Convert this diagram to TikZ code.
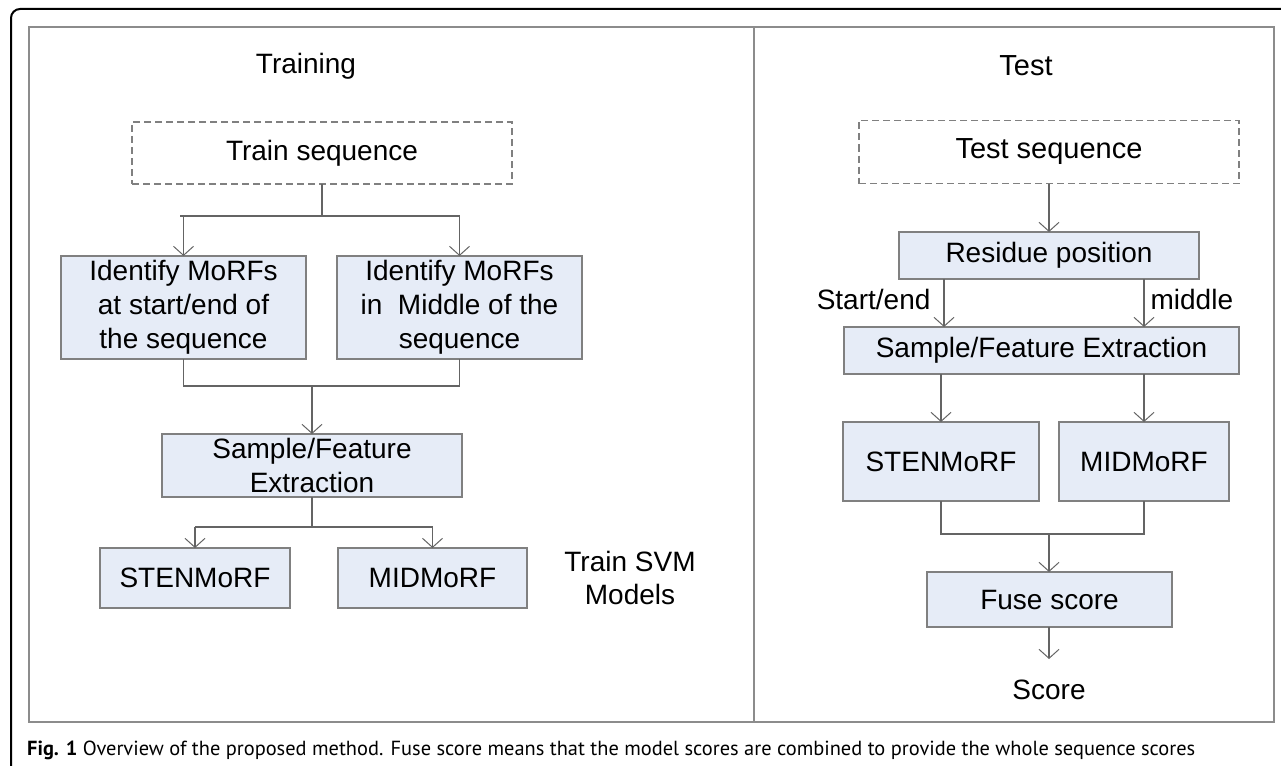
\documentclass[tikz,border=0pt]{standalone}
\usepackage{fontspec}
\setmainfont{Liberation Sans}
\newfontfamily\capfont{PT Sans}
\usetikzlibrary{arrows.meta}
\definecolor{boxfill}{RGB}{230,236,247}
\definecolor{boxline}{RGB}{128,128,128}
\definecolor{conline}{RGB}{100,100,100}
\definecolor{framegray}{RGB}{140,140,140}
\tikzset{
  procbox/.style={draw=boxline, fill=boxfill, line width=1.3pt, inner sep=0pt, outer sep=0pt, align=center, font=\fontsize{28}{34}\selectfont},
  seqbox/.style={draw=boxline, dashed, dash pattern=on 7pt off 4pt, line width=1.3pt, inner sep=0pt, outer sep=0pt, font=\fontsize{28}{34}\selectfont},
  conn/.style={draw=conline, line width=1.2pt},
  arr/.style={conn, -{Straight Barb[length=9pt,width=20pt,line width=1pt]}},
  lbl/.style={inner sep=0pt, align=center, font=\fontsize{28}{33}\selectfont},
}
\begin{document}
\begin{tikzpicture}[x=1pt,y=-1pt]
\useasboundingbox (0,0) rectangle (1281,765);
\fill[white] (0,0) rectangle (1281,765);
% outer page frame
\draw[black, line width=2pt, rounded corners=9pt] (11,770) -- (11,9) -- (1290,9);
% inner frame and divider
\draw[framegray, line width=1.5pt] (29,27) rectangle (1274,722);
\draw[framegray, line width=1.5pt] (754,27) -- (754,722);

% ---------------- Training ----------------
\node[lbl] (trtitle) at (306,66) {Training};
\node[seqbox, minimum width=380pt, minimum height=62pt] (trainseq) at (322,153) {Train sequence};
\node[procbox, minimum width=245pt, minimum height=103pt] (idse) at (183.5,307.5) {Identify MoRFs\\at start/end of\\the sequence};
\node[procbox, minimum width=245pt, minimum height=103pt] (idmid) at (459.5,307.5) {Identify MoRFs\\in\ \ Middle of the\\sequence};
\node[procbox, minimum width=300pt, minimum height=63pt] (sfe1) at (312,465.5) {Sample/Feature\\Extraction};
\node[procbox, minimum width=190pt, minimum height=60pt] (sten1) at (195,578) {STENMoRF};
\node[procbox, minimum width=189pt, minimum height=60pt] (mid1) at (432.5,578) {MIDMoRF};
\node[lbl] (svm) at (630,578) {Train SVM\\Models};

\coordinate (tsL) at (180,216);
\coordinate (tsR) at (460,216);
\draw[conn] (trainseq.south) -- (trainseq.south |- tsL);
\draw[conn] (tsL) -- (tsR);
\draw[arr] (idse.north |- tsL) -- (idse.north);
\draw[arr] (idmid.north |- tsL) -- (idmid.north);
\coordinate (mgL) at (183,386);
\draw[conn] (idse.south) -- (idse.south |- mgL) -- (idmid.south |- mgL) -- (idmid.south);
\draw[arr] (sfe1.north |- mgL) -- (sfe1.north);
\coordinate (spL) at (195,527);
\draw[conn] (sfe1.south) -- (sfe1.south |- spL);
\draw[conn] (sten1.north |- spL) -- (mid1.north |- spL);
\draw[arr] (sten1.north |- spL) -- (sten1.north);
\draw[arr] (mid1.north |- spL) -- (mid1.north);

% ---------------- Test ----------------
\node[lbl, font=\fontsize{29}{33}\selectfont] (tetitle) at (1026,66) {Test};
\node[seqbox, minimum width=380pt, minimum height=63pt, font=\fontsize{29}{34}\selectfont] (testseq) at (1049,152) {Test sequence};
\node[procbox, minimum width=300pt, minimum height=47pt] (resid) at (1049,255.5) {Residue position};
\node[procbox, minimum width=395pt, minimum height=47pt] (sfe2) at (1041.5,350.5) {Sample/Feature Extraction};
\node[procbox, minimum width=196pt, minimum height=79pt] (sten2) at (941,461.5) {STENMoRF};
\node[procbox, minimum width=170pt, minimum height=79pt] (mid2) at (1144,461.5) {MIDMoRF};
\node[procbox, minimum width=245pt, minimum height=55pt] (fuse) at (1049.5,599.5) {Fuse score};
\node[lbl] (score) at (1049,690) {Score};

\coordinate (cx) at (1049,0);
\coordinate (rL) at (944,0);
\coordinate (rR) at (1144,0);
\draw[arr] (testseq.south -| cx) -- (resid.north -| cx);
\draw[arr] (resid.south -| rL) -- (sfe2.north -| rL) node[pos=0.42, left=13pt, lbl] (stend) {Start/end};
\draw[arr] (resid.south -| rR) -- (sfe2.north -| rR) node[pos=0.42, right=6pt, lbl] (midl) {middle};
\draw[arr] (sfe2.south -| sten2.north) -- (sten2.north);
\draw[arr] (sfe2.south -| mid2.north) -- (mid2.north);
\coordinate (mg2) at (1049,534);
\draw[conn] (sten2.south) -- (sten2.south |- mg2) -- (mid2.south |- mg2) -- (mid2.south);
\draw[arr] (mg2) -- (fuse.north -| mg2);
\coordinate (scoreend) at (1049,659);
\draw[arr] (fuse.south -| mg2) -- (scoreend);

% ---------------- Caption ----------------
\node[anchor=base west, inner sep=0pt] (caption) at (27,755) {\resizebox{1168pt}{!}{\capfont\fontsize{20}{24}\selectfont\textbf{Fig. 1} Overview of the proposed method. Fuse score means that the model scores are combined to provide the whole sequence scores}};
\end{tikzpicture}
\end{document}
